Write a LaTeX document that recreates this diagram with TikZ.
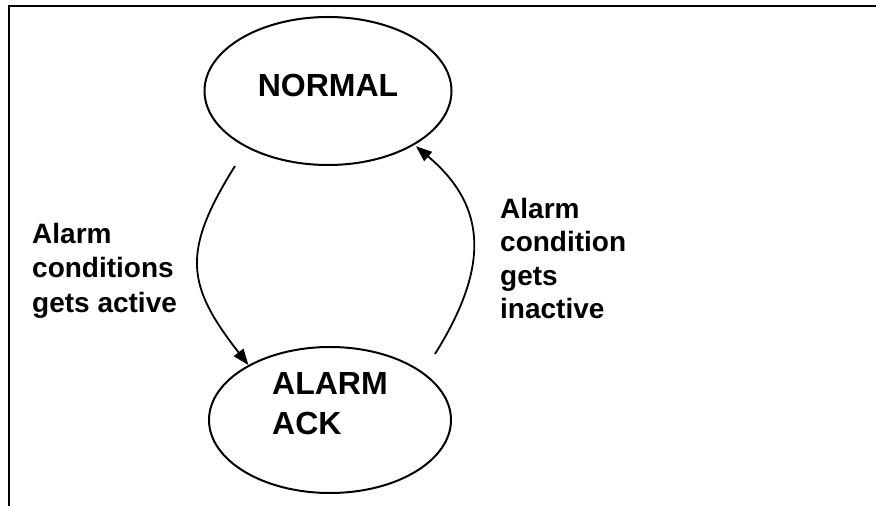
\documentclass[tikz,border=0pt]{standalone}
\usepackage{fontspec}
\setmainfont{Liberation Sans}
\usetikzlibrary{shapes.geometric, arrows.meta}

\begin{document}
\begin{tikzpicture}[x=1pt, y=1pt]
    % Define styles
    \tikzstyle{state} = [ellipse, draw=black, line width=2pt, inner sep=0pt]
    \tikzstyle{statetext} = [inner sep=0pt, align=left, font=\fontsize{32}{40}\selectfont\bfseries]
    \tikzstyle{cond} = [inner sep=0pt, align=left, anchor=north west, font=\fontsize{28}{34.5}\selectfont\bfseries]
    \tikzstyle{trans} = [-{Triangle[length=16pt, width=12pt]}, line width=1.8pt]
    \useasboundingbox (0, 0) rectangle (876, 506);

    % Frame
    \draw[line width=2.2pt] (9, 0) -- (9, 500) -- (876, 500);

    % States
    \node[state, minimum width=247pt, minimum height=148pt] (normal) at (328, 415) {};
    \node[statetext] (normaltext) at (328, 420.5) {NORMAL};
    \node[state, minimum width=242pt, minimum height=146pt] (alarm) at (330, 86) {};
    \node[statetext, anchor=north west] (alarmtext) at (272, 134) {ALARM\\ACK};

    % Conditions
    \node[cond] (active) at (32, 283) {Alarm\\conditions\\gets active};
    \node[cond, font=\fontsize{28}{33.5}\selectfont\bfseries] (inactive) at (500, 308) {Alarm\\condition\\gets\\inactive};

    % Transitions
    \coordinate (actfrom) at (235, 340);
    \coordinate (inactfrom) at (435, 152);
    \draw[trans] (actfrom) to[out=-122, in=128, looseness=1.3] (alarm.146);
    \draw[trans, shorten >=2pt] (inactfrom) to[out=58, in=-40, looseness=1.2] (normal.-32);

\end{tikzpicture}
\end{document}
